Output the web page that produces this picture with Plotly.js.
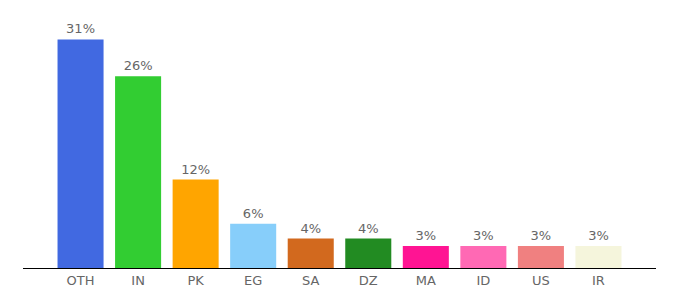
<!DOCTYPE html>
<html>
<head>
<meta charset="utf-8">
<script src="https://cdn.plot.ly/plotly-3.0.1.min.js"></script>
<style>html,body{margin:0;padding:0;background:#fff;}#chart{width:680px;height:300px;}</style>
</head>
<body>
<div id="chart"></div>
<script>
const categories = ["OTH", "IN", "PK", "EG", "SA", "DZ", "MA", "ID", "US", "IR"];
const values = [31, 26, 12, 6, 4, 4, 3, 3, 3, 3];
const labels = ["31%", "26%", "12%", "6%", "4%", "4%", "3%", "3%", "3%", "3%"];
const colors = ["#4169E1", "#32CD32", "#FFA500", "#87CEFA", "#D2691E", "#228B22", "#FF1493", "#FF69B4", "#F08080", "#F5F5DC"];

const trace = {
  type: "bar",
  x: categories,
  y: values,
  text: labels,
  textposition: "outside",
  cliponaxis: false,
  textfont: {family: "DejaVu Sans, Verdana, sans-serif", size: 13, color: "#666"},
  marker: {color: colors},
  hoverinfo: "none"
};

const layout = {
  width: 680,
  height: 300,
  margin: {l: 23, r: 24, t: 10, b: 32},
  paper_bgcolor: "#fff",
  plot_bgcolor: "#fff",
  bargap: 0.2,
  showlegend: false,
  xaxis: {
    type: "category",
    range: [-1, 10],
    showline: true,
    linecolor: "#000",
    linewidth: 1,
    showgrid: false,
    zeroline: false,
    ticks: "",
    tickfont: {family: "DejaVu Sans, Verdana, sans-serif", size: 13, color: "#666"}
  },
  yaxis: {
    range: [0, 35],
    visible: false,
    showgrid: false,
    zeroline: false
  }
};

Plotly.newPlot("chart", [trace], layout, {displayModeBar: false, staticPlot: true});
</script>
</body>
</html>
